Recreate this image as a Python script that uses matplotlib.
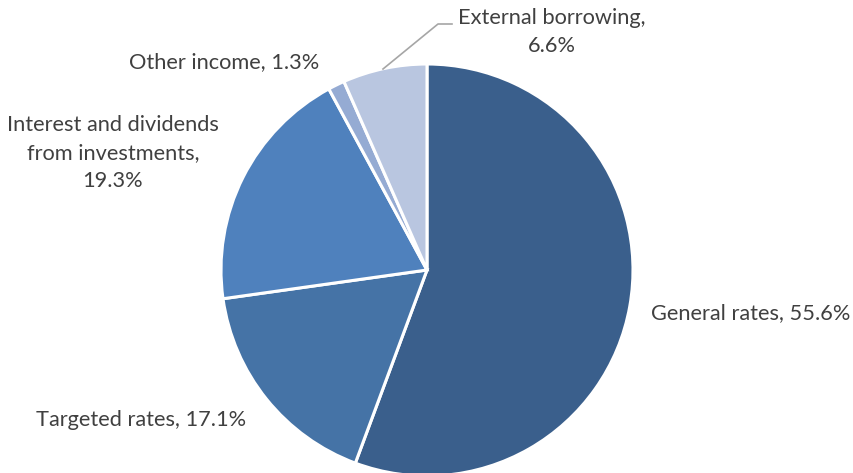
import matplotlib.pyplot as plt

# Fuentes de ingresos
categorias = ['General rates', 'Targeted rates', 'Interest and dividends\nfrom investments',
              'Other income', 'External borrowing']
porcentajes = [55.6, 17.1, 19.3, 1.3, 6.6]
colores = ['#3A5F8C', '#4573A6', '#4F81BD', '#95ABD3', '#B9C6E0']

plt.rcParams['font.family'] = ['Lato', 'DejaVu Sans']

fig = plt.figure(figsize=(8.54, 4.73), dpi=100)
ax = fig.add_axes([0, 0, 1, 1])

ax.pie(porcentajes, colors=colores, startangle=90, counterclock=False,
       center=(427, 203), radius=206,
       wedgeprops=dict(edgecolor='white', linewidth=2.2))
ax.set_xlim(0, 854)
ax.set_ylim(0, 473)
ax.set_aspect('equal')
ax.axis('off')

# Etiquetas (posiciones en píxeles)
pos_etiquetas = [(751, 160), (141, 53), (113, 320), (224, 411), (552, 441)]
for cat, pct, (x, y) in zip(categorias, porcentajes, pos_etiquetas):
    if cat == 'External borrowing' or '\n' in cat:
        texto = f'{cat},\n{pct:.1f}%'
    else:
        texto = f'{cat}, {pct:.1f}%'
    ax.text(x, y, texto, ha='center', va='center', fontsize=15.7, color='#404040',
            linespacing=1.5)

# Línea guía para "External borrowing"
ax.plot([452, 438, 383], [473 - 24, 473 - 24, 473 - 69], color='#A6A6A6', lw=1.2)

fig.savefig('out.png', dpi=100)
